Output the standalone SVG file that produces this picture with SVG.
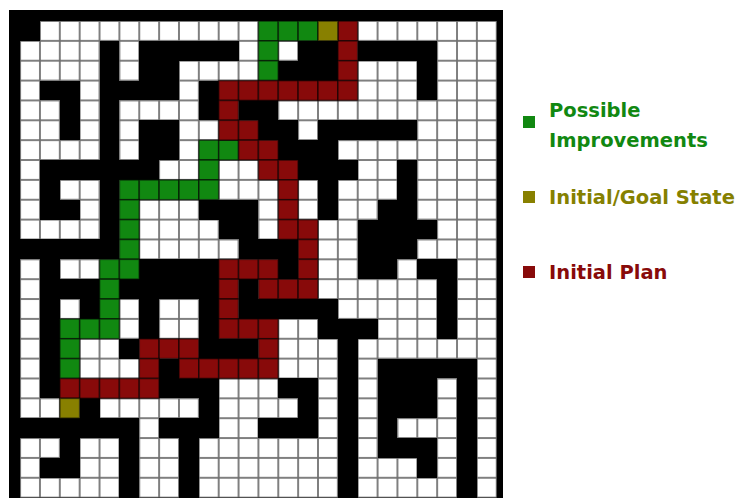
<svg xmlns="http://www.w3.org/2000/svg" width="742" height="500" viewBox="0 0 742 500">
<style>
.b{fill:#000}
.g{fill:#118811}
.o{fill:#888000}
.r{fill:#880a0a}
.c{stroke:#000;stroke-opacity:.55;stroke-width:.08}
.lt{font-family:"DejaVu Sans",Verdana,sans-serif;font-weight:bold;font-size:19.5px}
</style>
<defs>
<pattern id="cell" patternUnits="userSpaceOnUse" x="0" y="0" width="1" height="1">
<rect x="0" y="0" width="1" height="1" fill="#707070"/>
<rect x="0.045" y="0.045" width="0.91" height="0.91" fill="#fff"/>
</pattern>
</defs>
<rect width="742" height="500" fill="#fff"/>
<rect id="frame" x="9" y="10" width="494" height="488" fill="#000"/>
<g id="maze" transform="translate(20.1 21) scale(19.86)">
<rect x="0" y="0" width="24" height="24" fill="url(#cell)"/>
<g id="walls" class="b" shape-rendering="crispEdges">
<rect x="0" y="0" width="1" height="1"/>
<rect x="4" y="1" width="1" height="1"/><rect x="6" y="1" width="5" height="1"/><rect x="14" y="1" width="2" height="1"/><rect x="17" y="1" width="4" height="1"/>
<rect x="4" y="2" width="1" height="1"/><rect x="6" y="2" width="2" height="1"/><rect x="13" y="2" width="3" height="1"/><rect x="20" y="2" width="1" height="1"/>
<rect x="1" y="3" width="2" height="1"/><rect x="4" y="3" width="4" height="1"/><rect x="9" y="3" width="1" height="1"/><rect x="20" y="3" width="1" height="1"/>
<rect x="2" y="4" width="1" height="1"/><rect x="4" y="4" width="1" height="1"/><rect x="9" y="4" width="1" height="1"/><rect x="11" y="4" width="2" height="1"/>
<rect x="2" y="5" width="1" height="1"/><rect x="4" y="5" width="1" height="1"/><rect x="6" y="5" width="2" height="1"/><rect x="12" y="5" width="2" height="1"/><rect x="15" y="5" width="5" height="1"/>
<rect x="4" y="6" width="1" height="1"/><rect x="6" y="6" width="2" height="1"/><rect x="13" y="6" width="3" height="1"/>
<rect x="1" y="7" width="6" height="1"/><rect x="14" y="7" width="3" height="1"/><rect x="19" y="7" width="1" height="1"/>
<rect x="1" y="8" width="1" height="1"/><rect x="4" y="8" width="1" height="1"/><rect x="15" y="8" width="1" height="1"/><rect x="19" y="8" width="1" height="1"/>
<rect x="1" y="9" width="2" height="1"/><rect x="4" y="9" width="1" height="1"/><rect x="9" y="9" width="3" height="1"/><rect x="15" y="9" width="1" height="1"/><rect x="18" y="9" width="2" height="1"/>
<rect x="4" y="10" width="1" height="1"/><rect x="10" y="10" width="2" height="1"/><rect x="17" y="10" width="4" height="1"/>
<rect x="0" y="11" width="5" height="1"/><rect x="11" y="11" width="3" height="1"/><rect x="17" y="11" width="3" height="1"/>
<rect x="1" y="12" width="1" height="1"/><rect x="6" y="12" width="4" height="1"/><rect x="13" y="12" width="1" height="1"/><rect x="17" y="12" width="2" height="1"/><rect x="20" y="12" width="2" height="1"/>
<rect x="1" y="13" width="3" height="1"/><rect x="5" y="13" width="5" height="1"/><rect x="11" y="13" width="1" height="1"/><rect x="21" y="13" width="1" height="1"/>
<rect x="1" y="14" width="1" height="1"/><rect x="3" y="14" width="1" height="1"/><rect x="6" y="14" width="1" height="1"/><rect x="9" y="14" width="1" height="1"/><rect x="11" y="14" width="5" height="1"/><rect x="21" y="14" width="1" height="1"/>
<rect x="1" y="15" width="1" height="1"/><rect x="6" y="15" width="1" height="1"/><rect x="9" y="15" width="1" height="1"/><rect x="15" y="15" width="3" height="1"/><rect x="21" y="15" width="1" height="1"/>
<rect x="1" y="16" width="1" height="1"/><rect x="5" y="16" width="1" height="1"/><rect x="9" y="16" width="3" height="1"/><rect x="16" y="16" width="1" height="1"/>
<rect x="1" y="17" width="1" height="1"/><rect x="7" y="17" width="1" height="1"/><rect x="16" y="17" width="1" height="1"/><rect x="18" y="17" width="5" height="1"/>
<rect x="1" y="18" width="1" height="1"/><rect x="7" y="18" width="3" height="1"/><rect x="13" y="18" width="2" height="1"/><rect x="16" y="18" width="1" height="1"/><rect x="18" y="18" width="3" height="1"/><rect x="22" y="18" width="1" height="1"/>
<rect x="3" y="19" width="1" height="1"/><rect x="9" y="19" width="1" height="1"/><rect x="14" y="19" width="1" height="1"/><rect x="16" y="19" width="1" height="1"/><rect x="18" y="19" width="3" height="1"/><rect x="22" y="19" width="1" height="1"/>
<rect x="0" y="20" width="6" height="1"/><rect x="7" y="20" width="3" height="1"/><rect x="12" y="20" width="3" height="1"/><rect x="16" y="20" width="1" height="1"/><rect x="18" y="20" width="1" height="1"/><rect x="22" y="20" width="1" height="1"/>
<rect x="2" y="21" width="1" height="1"/><rect x="5" y="21" width="1" height="1"/><rect x="8" y="21" width="1" height="1"/><rect x="16" y="21" width="1" height="1"/><rect x="18" y="21" width="3" height="1"/><rect x="22" y="21" width="1" height="1"/>
<rect x="1" y="22" width="2" height="1"/><rect x="5" y="22" width="1" height="1"/><rect x="8" y="22" width="1" height="1"/><rect x="16" y="22" width="1" height="1"/><rect x="20" y="22" width="1" height="1"/><rect x="22" y="22" width="1" height="1"/>
<rect x="5" y="23" width="1" height="1"/><rect x="8" y="23" width="1" height="1"/><rect x="16" y="23" width="1" height="1"/><rect x="22" y="23" width="1" height="1"/>
</g>
<g id="improvements" class="g c">
<rect x="12" y="0" width="1" height="1"/><rect x="13" y="0" width="1" height="1"/><rect x="14" y="0" width="1" height="1"/>
<rect x="12" y="1" width="1" height="1"/><rect x="12" y="2" width="1" height="1"/>
<rect x="9" y="6" width="1" height="1"/><rect x="10" y="6" width="1" height="1"/><rect x="9" y="7" width="1" height="1"/>
<rect x="5" y="8" width="1" height="1"/><rect x="6" y="8" width="1" height="1"/><rect x="7" y="8" width="1" height="1"/><rect x="8" y="8" width="1" height="1"/><rect x="9" y="8" width="1" height="1"/>
<rect x="5" y="9" width="1" height="1"/><rect x="5" y="10" width="1" height="1"/><rect x="5" y="11" width="1" height="1"/>
<rect x="4" y="12" width="1" height="1"/><rect x="5" y="12" width="1" height="1"/>
<rect x="4" y="13" width="1" height="1"/><rect x="4" y="14" width="1" height="1"/>
<rect x="2" y="15" width="1" height="1"/><rect x="3" y="15" width="1" height="1"/><rect x="4" y="15" width="1" height="1"/>
<rect x="2" y="16" width="1" height="1"/><rect x="2" y="17" width="1" height="1"/>
</g>
<g id="plan" class="r c">
<rect x="16" y="0" width="1" height="1"/><rect x="16" y="1" width="1" height="1"/><rect x="16" y="2" width="1" height="1"/>
<rect x="10" y="3" width="1" height="1"/><rect x="11" y="3" width="1" height="1"/><rect x="12" y="3" width="1" height="1"/><rect x="13" y="3" width="1" height="1"/><rect x="14" y="3" width="1" height="1"/><rect x="15" y="3" width="1" height="1"/><rect x="16" y="3" width="1" height="1"/>
<rect x="10" y="4" width="1" height="1"/><rect x="10" y="5" width="1" height="1"/><rect x="11" y="5" width="1" height="1"/>
<rect x="11" y="6" width="1" height="1"/><rect x="12" y="6" width="1" height="1"/>
<rect x="12" y="7" width="1" height="1"/><rect x="13" y="7" width="1" height="1"/>
<rect x="13" y="8" width="1" height="1"/><rect x="13" y="9" width="1" height="1"/>
<rect x="13" y="10" width="1" height="1"/><rect x="14" y="10" width="1" height="1"/>
<rect x="14" y="11" width="1" height="1"/>
<rect x="10" y="12" width="1" height="1"/><rect x="11" y="12" width="1" height="1"/><rect x="12" y="12" width="1" height="1"/><rect x="14" y="12" width="1" height="1"/>
<rect x="10" y="13" width="1" height="1"/><rect x="12" y="13" width="1" height="1"/><rect x="13" y="13" width="1" height="1"/><rect x="14" y="13" width="1" height="1"/>
<rect x="10" y="14" width="1" height="1"/>
<rect x="10" y="15" width="1" height="1"/><rect x="11" y="15" width="1" height="1"/><rect x="12" y="15" width="1" height="1"/>
<rect x="6" y="16" width="1" height="1"/><rect x="7" y="16" width="1" height="1"/><rect x="8" y="16" width="1" height="1"/><rect x="12" y="16" width="1" height="1"/>
<rect x="6" y="17" width="1" height="1"/><rect x="8" y="17" width="1" height="1"/><rect x="9" y="17" width="1" height="1"/><rect x="10" y="17" width="1" height="1"/><rect x="11" y="17" width="1" height="1"/><rect x="12" y="17" width="1" height="1"/>
<rect x="2" y="18" width="1" height="1"/><rect x="3" y="18" width="1" height="1"/><rect x="4" y="18" width="1" height="1"/><rect x="5" y="18" width="1" height="1"/><rect x="6" y="18" width="1" height="1"/>
</g>
<g id="states" class="o c">
<rect x="15" y="0" width="1" height="1"/>
<rect x="2" y="19" width="1" height="1"/>
</g>
</g>
<g id="legend">
<g id="legend-improvements">
<rect class="g" x="523" y="116" width="12" height="12"/>
<text class="lt" fill="#118811" x="549" y="117">Possible</text>
<text class="lt" fill="#118811" x="549" y="147">Improvements</text>
</g>
<g id="legend-states">
<rect class="o" x="523" y="191" width="12" height="12"/>
<text class="lt" fill="#858000" x="549" y="204">Initial/Goal State</text>
</g>
<g id="legend-plan">
<rect class="r" x="523" y="266" width="12" height="12"/>
<text class="lt" fill="#880a0a" x="549" y="279">Initial Plan</text>
</g>
</g>
</svg>
